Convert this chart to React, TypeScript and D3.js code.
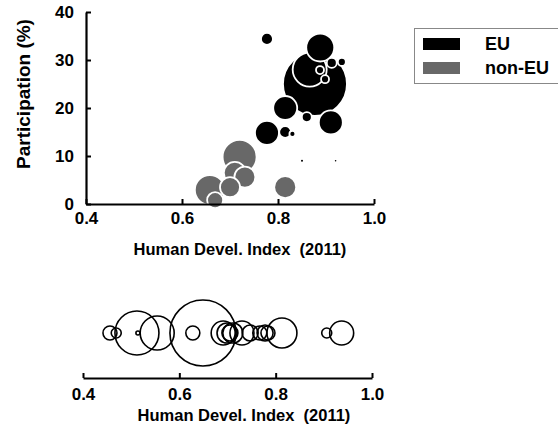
import React, { useEffect, useRef } from 'react';
import * as d3 from 'd3';

// top panel: HDI vs participation, bubble area ~ size
const euHdi = [0.777, 0.888, 0.877, 0.866, 0.8875, 0.912, 0.933, 0.898, 0.815, 0.86, 0.91, 0.777, 0.815, 0.83, 0.85, 0.92];
const euPart = [34.4, 32.6, 25, 28, 27.9, 29.4, 29.6, 26, 20, 18.1, 17, 14.8, 15, 14.6, 9, 9];
const euSize = [36, 196, 1024, 289, 16, 25, 16, 16, 144, 25, 144, 144, 36, 9, 1, 0.6];

const nonEuHdi = [0.72, 0.731, 0.71, 0.658, 0.669, 0.815, 0.70];
const nonEuPart = [9.8, 5.6, 6.5, 2.9, 0.8, 3.5, 3.5];
const nonEuSize = [289, 110, 121, 225, 64, 121, 100];

// bottom panel: all countries along the HDI axis
const allHdi = [0.456, 0.469, 0.512, 0.514, 0.554, 0.628, 0.649, 0.691, 0.699, 0.705, 0.711, 0.73, 0.747, 0.767, 0.778, 0.784, 0.813, 0.906, 0.937];
const allSize = [49, 25, 484, 4, 289, 49, 1089, 144, 100, 64, 100, 144, 64, 49, 64, 49, 225, 25, 144];

const xTicks = [0.4, 0.6, 0.8, 1.0];
const yTicks = [0, 10, 20, 30, 40];
const legendItems = ['EU', 'non-EU'];

const FONT = '"Liberation Sans", Arial, sans-serif';
const EU_COLOR = '#000000';
const NON_EU_COLOR = '#686868';

const App = () => {
  const ref = useRef<SVGSVGElement | null>(null);

  useEffect(() => {
    const svg = d3.select(ref.current);
    svg.selectAll('*').remove();

    const r = d3.scaleSqrt().domain([0, 100]).range([0, 10]);

    // ---------- top scatter ----------
    const x = d3.scaleLinear().domain([0.4, 1.0]).range([86, 374]);
    const y = d3.scaleLinear().domain([0, 40]).range([204, 12]);

    const pts = [
      ...euHdi.map((h, i) => ({ h, p: euPart[i], s: euSize[i], c: EU_COLOR })),
      ...nonEuHdi.map((h, i) => ({ h, p: nonEuPart[i], s: nonEuSize[i], c: NON_EU_COLOR })),
    ].sort((a, b) => b.s - a.s);

    svg.append('g')
      .selectAll('circle')
      .data(pts)
      .enter().append('circle')
      .attr('cx', d => x(d.h))
      .attr('cy', d => y(d.p))
      .attr('r', d => r(d.s))
      .attr('fill', d => d.c)
      .attr('stroke', d => (d.s < 4 ? 'none' : '#fff'))
      .attr('stroke-width', 1.8);

    const xAxis = svg.append('g')
      .attr('transform', `translate(0,${y(0)})`)
      .call(d3.axisBottom(x).tickValues(xTicks).tickSizeInner(-5).tickSizeOuter(0)
        .tickPadding(8).tickFormat(d3.format('.1f')));

    const yAxis = svg.append('g')
      .attr('transform', `translate(${x(0.4)},0)`)
      .call(d3.axisLeft(y).tickValues(yTicks).tickSizeInner(-5).tickSizeOuter(0).tickPadding(12));

    svg.append('text')
      .attr('x', 240).attr('y', 255)
      .attr('text-anchor', 'middle')
      .style('font', `bold 16.5px ${FONT}`)
      .style('white-space', 'pre')
      .text('Human Devel. Index  (2011)');

    svg.append('text')
      .attr('transform', `translate(30,${y(20) - 14}) rotate(-90)`)
      .attr('text-anchor', 'middle')
      .style('font', `bold 19px ${FONT}`)
      .text('Participation (%)');

    // ---------- legend ----------
    const lg = svg.append('g');
    lg.append('rect')
      .attr('x', 414.5).attr('y', 28.5).attr('width', 160).attr('height', 55)
      .attr('fill', '#fff').attr('stroke', '#888').attr('stroke-width', 1);
    legendItems.forEach((name, i) => {
      lg.append('rect')
        .attr('x', 423).attr('y', 38 + i * 24).attr('width', 37).attr('height', 12)
        .attr('fill', i === 0 ? EU_COLOR : NON_EU_COLOR);
      lg.append('text')
        .attr('x', 485).attr('y', 50 + i * 24)
        .style('font', `bold 18px ${FONT}`)
        .text(name);
    });

    // ---------- bottom strip ----------
    const x2 = d3.scaleLinear().domain([0.4, 1.0]).range([83, 372]);
    const stripY = 333;

    svg.append('g')
      .selectAll('circle')
      .data(allHdi.map((h, i) => ({ h, s: allSize[i] })))
      .enter().append('circle')
      .attr('cx', d => x2(d.h))
      .attr('cy', stripY)
      .attr('r', d => r(d.s))
      .attr('fill', 'none')
      .attr('stroke', '#000')
      .attr('stroke-width', 1.6);

    const xAxis2 = svg.append('g')
      .attr('transform', 'translate(0,378)')
      .call(d3.axisBottom(x2).tickValues(xTicks).tickSizeInner(-5).tickSizeOuter(0)
        .tickPadding(10).tickFormat(d3.format('.1f')));

    svg.append('text')
      .attr('x', 244).attr('y', 421)
      .attr('text-anchor', 'middle')
      .style('font', `bold 16.5px ${FONT}`)
      .style('white-space', 'pre')
      .text('Human Devel. Index  (2011)');

    [xAxis, yAxis, xAxis2].forEach(ax => {
      ax.select('.domain').attr('stroke', '#000').attr('stroke-width', 2.2);
      ax.selectAll('.tick line').attr('stroke', '#000').attr('stroke-width', 2);
      ax.selectAll('.tick text')
        .attr('fill', '#000')
        .style('font', `bold 17px ${FONT}`);
    });
  }, []);

  return (
    <svg ref={ref} width={558} height={435}
      style={{ position: 'absolute', left: 0, top: 0, background: '#fff' }} />
  );
};

export default App;
